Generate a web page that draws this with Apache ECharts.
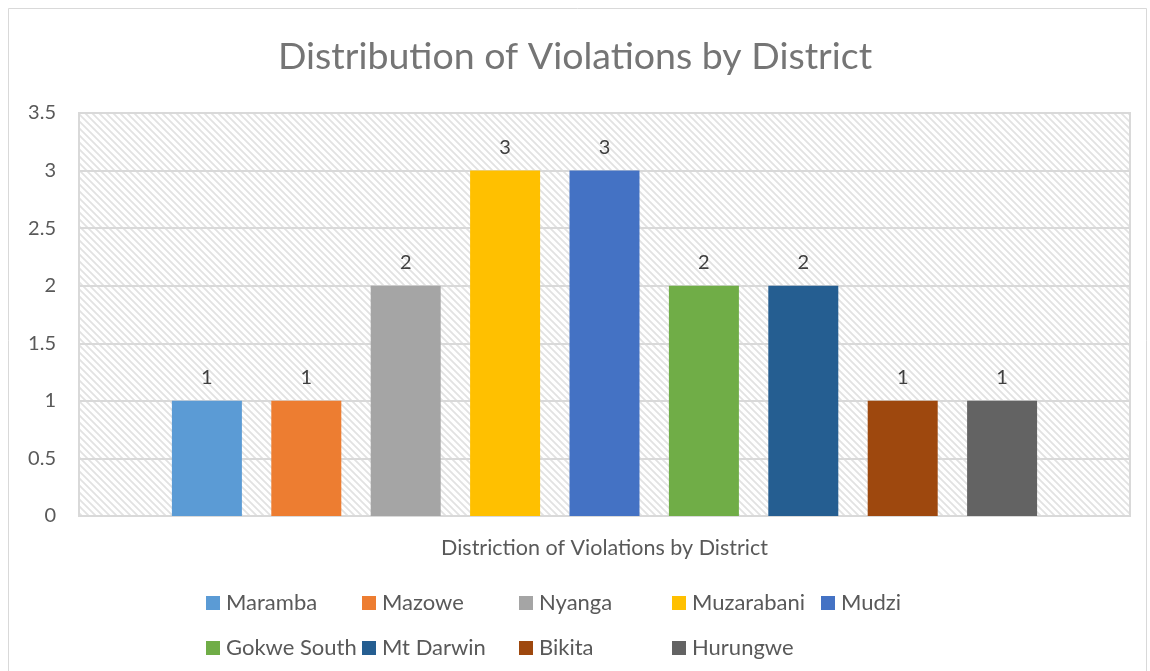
<!DOCTYPE html>
<html><head><meta charset="utf-8">
<script src="https://cdn.jsdelivr.net/npm/echarts@6/dist/echarts.min.js"></script>
<style>html,body{margin:0;padding:0;background:#fff}#c{width:1150px;height:671px}</style>
</head><body><div id="c"></div>
<script>
const districts = ['Maramba','Mazowe','Nyanga','Muzarabani','Mudzi','Gokwe South','Mt Darwin','Bikita','Hurungwe'];
const violations = [1,1,2,3,3,2,2,1,1];
const colors = ['#5B9BD5','#ED7D31','#A5A5A5','#FFC000','#4472C4','#70AD47','#255E91','#9E480E','#636363'];
const categoryName = 'Distriction of Violations by District';
const titleText = 'Distribution of Violations by District';
// legend layout (left px, top px) per item
const legendPos = [[201,587],[357,587],[514,587],[667,587],[816,587],[201,632],[357,632],[514,632],[667,632]];

const cv = document.createElement('canvas');
cv.width = 7; cv.height = 7;
const cx = cv.getContext('2d');
cx.fillStyle = '#ffffff'; cx.fillRect(0,0,7,7);
cx.strokeStyle = '#e2e2e2'; cx.lineWidth = 1.8;
cx.beginPath();
cx.moveTo(-1,-1); cx.lineTo(8,8);
cx.moveTo(-8,-1); cx.lineTo(1,8);
cx.moveTo(6,-1); cx.lineTo(15,8);
cx.stroke();

const font = 'Lato, "Open Sans", sans-serif';
const chart = echarts.init(document.getElementById('c'), null, {renderer:'canvas'});
const series = districts.map((d,i)=>({
  name: d, type:'bar', data:[violations[i]],
  barWidth: 70, barGap: '42%',
  itemStyle:{color: colors[i]},
  label:{show:true, position:'top', distance:13, color:'#404040', fontSize:20, fontFamily:font}
}));
const legends = districts.map((d,i)=>({
  data:[d], left: legendPos[i][0], top: legendPos[i][1],
  itemWidth: 14, itemHeight: 14, itemGap: 0, icon:'rect',
  textStyle:{color:'#595959', fontSize:22, fontFamily:font, padding:[0,0,0,1]}
}));
chart.setOption({
  animation:false,
  backgroundColor:'#fff',
  title:{text:titleText, left:'center', top:33, textStyle:{color:'#757575', fontSize:37.5, fontWeight:'normal', fontFamily:font}},
  graphic:[{type:'rect', shape:{x:8.5,y:8.5,width:1138,height:670}, style:{fill:'none', stroke:'#d9d9d9', lineWidth:1}, silent:true}],
  grid:{left:79, right:20, top:113, bottom:155, show:true, backgroundColor:{image:cv, repeat:'repeat'}, borderColor:'#d9d9d9', borderWidth:2},
  legend: legends,
  xAxis:{type:'category', data:[categoryName], axisTick:{show:false},
    axisLine:{lineStyle:{color:'#d9d9d9', width:2}},
    axisLabel:{color:'#595959', fontSize:21.5, fontFamily:font, margin:21}},
  yAxis:{type:'value', min:0, max:3.5, interval:0.5,
    axisLine:{show:false}, axisTick:{show:false},
    splitLine:{lineStyle:{color:'#d9d9d9', width:2}},
    axisLabel:{color:'#595959', fontSize:20, fontFamily:font, margin:23}},
  series: series
});
</script></body></html>
